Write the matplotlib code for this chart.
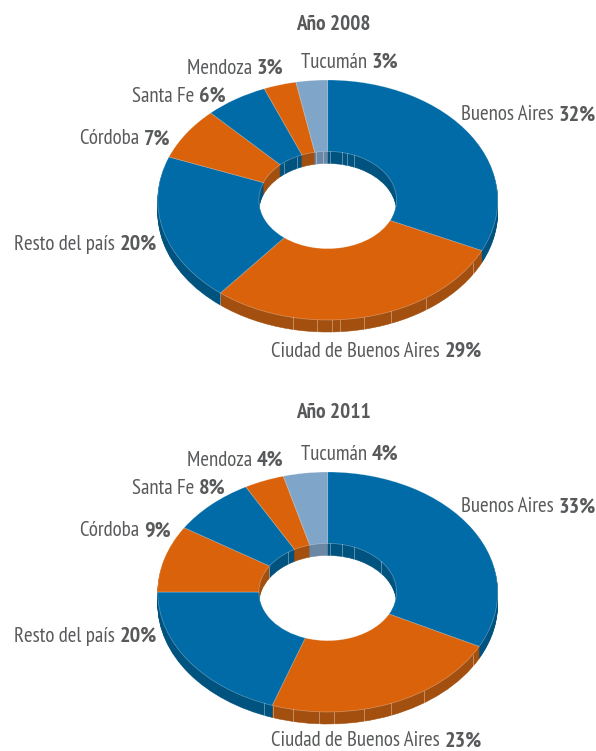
import numpy as np
import matplotlib
matplotlib.use("Agg")
import matplotlib.pyplot as plt

W, H = 596, 751
categories = ["Buenos Aires", "Ciudad de Buenos Aires", "Resto del país", "Córdoba",
              "Santa Fe", "Mendoza", "Tucumán"]
# printed percentages
labels_2008 = [32, 29, 20, 7, 6, 3, 3]
labels_2011 = [33, 23, 20, 9, 8, 4, 4]
# slice sizes (the 2011 labels are rounded and add up to 101)
values_2008 = [32, 29, 20, 7.1, 6, 3.1, 3]
values_2011 = [32.5, 22.8, 19.7, 9, 8, 3.8, 4.2]
titles = ["Año 2008", "Año 2011"]

top_colors = ["#006BA6", "#DA620B", "#006BA6", "#DA620B", "#006BA6", "#DA620B", "#7FA5C8"]
wall_colors = ["#00527F", "#A24F0F", "#00527F", "#A24F0F", "#00527F", "#A24F0F", "#6A88A6"]
text_color = "#58595B"
FONT = ["PT Sans Narrow", "DejaVu Sans"]

RX, RY = 170.0, 120.0
HOLE = 0.405
DEPTH = 12
K = RX / RY
CX = 327.7

# label: left edge (px) and vertical offset from the chart centre (px)
label_left = [461, 271, 14, 80, 132, 187, 301]
label_dy_2008 = [-87, 149, 42, -63, -106, -134, -140]
label_dy_2011 = [-87, 147, 42, -63, -106, -134, -140]

# wall seams, as horizontal offsets from the centre (px)
outer_seams = [[145, 98, 63, 36, 12, 4, -11, -35, -108],
               [145, 96, 63, 36, 6, -9, -35, -55, -64]]
inner_seams = [[-44, -31, -12, -5, 2, 14, 19, 26],
               [-59, -40, 2, 14, 26, 53]]

fig = plt.figure(figsize=(W / 100, H / 100), dpi=100)
ax = fig.add_axes([0, 0, 1, 1])
ax.set_xlim(0, W)
ax.set_ylim(0, H * K)


def yd(py):
    return (H - py) * K


def bi_label(x, py, regular, bold):
    t = ax.text(x, yd(py), regular + " ", family=FONT, fontsize=15.0, color=text_color,
                ha="left", va="center_baseline")
    bb = t.get_window_extent(fig.canvas.get_renderer())
    x1 = ax.transData.inverted().transform((bb.x1, bb.y0))[0]
    ax.text(x1 + 0.5, yd(py), bold, family=FONT, fontsize=16.0, weight="bold", color=text_color,
            ha="left", va="center_baseline")


def donut(values, labels, dys, cy, title_y, title, seams_o, seams_i):
    for d in range(DEPTH, 0, -1):
        wedges, _ = ax.pie(values, colors=wall_colors, startangle=90, counterclock=False, radius=RX,
                           center=(CX, yd(cy + d)), frame=True,
                           wedgeprops=dict(width=RX * (1 - HOLE), linewidth=0.4))
        for w in wedges:
            w.set_edgecolor(w.get_facecolor())
    seam = (1, 1, 1, 0.4)
    for dx in seams_o:
        y0 = cy + RY * np.sqrt(1 - (dx / RX) ** 2)
        ax.plot([CX + dx, CX + dx], [yd(y0), yd(y0 + DEPTH)], color=seam, lw=0.6)
    for dx in seams_i:
        y0 = cy - RY * HOLE * np.sqrt(1 - (dx / (RX * HOLE)) ** 2)
        ax.plot([CX + dx, CX + dx], [yd(y0), yd(y0 + DEPTH)], color=seam, lw=0.6)
    ax.pie(values, colors=top_colors, startangle=90, counterclock=False, radius=RX,
           center=(CX, yd(cy)), frame=True,
           wedgeprops=dict(width=RX * (1 - HOLE), linewidth=0.5, edgecolor=(1, 1, 1, 0.35)))
    ax.set_aspect("auto")
    ax.set_xlim(0, W)
    ax.set_ylim(0, H * K)
    ax.text(333.5, yd(title_y), title, family=FONT, fontsize=15.3,
            weight="bold", color=text_color, ha="center", va="center_baseline")
    for name, v, lx, dy in zip(categories, labels, label_left, dys):
        bi_label(lx, cy + dy, name, f"{v}%")


donut(values_2008, labels_2008, label_dy_2008, 200, 22, titles[0], outer_seams[0], inner_seams[0])
donut(values_2011, labels_2011, label_dy_2011, 592, 410, titles[1], outer_seams[1], inner_seams[1])

ax.set_aspect("auto")
ax.set_xlim(0, W)
ax.set_ylim(0, H * K)
ax.axis("off")
fig.savefig("out.png", dpi=100, facecolor="white")
